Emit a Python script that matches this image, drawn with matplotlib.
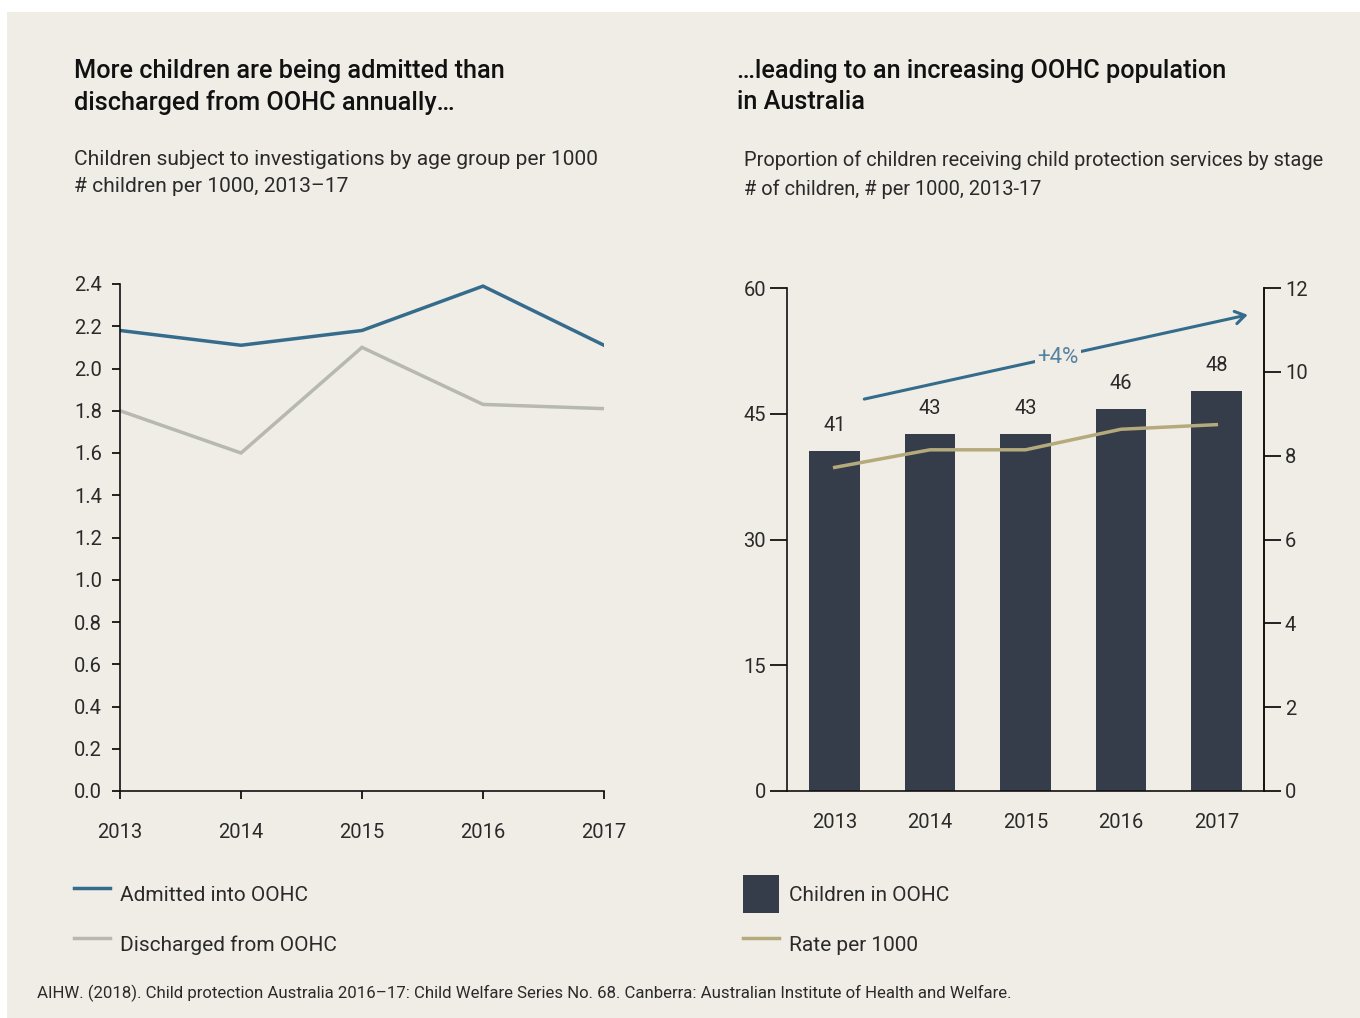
import numpy as np
import matplotlib
matplotlib.use('Agg')
import matplotlib.pyplot as plt
from matplotlib.lines import Line2D
from matplotlib.patches import Patch, Rectangle

plt.rcParams['font.family'] = ['Roboto', 'DejaVu Sans']

# data
years = [2013, 2014, 2015, 2016, 2017]
admitted = [2.18, 2.11, 2.18, 2.39, 2.11]
discharged = [1.80, 1.60, 2.10, 1.83, 1.81]
children_oohc = [40.6, 42.6, 42.6, 45.6, 47.7]
rate_per_1000 = [7.72, 8.14, 8.14, 8.63, 8.74]

bg = '#F0EDE6'
txt = '#2A2A2A'
blue = '#356C8C'
grey = '#B6B8B1'
bar_col = '#363D4A'
khaki = '#B5AA7C'

fig = plt.figure(figsize=(13.6, 10.18), dpi=100, facecolor='white')
fig.patches.append(Rectangle((7 / 1360, 0), 1 - 7 / 1360, 1 - 12 / 1018,
                             transform=fig.transFigure, facecolor=bg,
                             edgecolor='none', zorder=-10))

W, H = 1360., 1018.

def fx(px):
    return px / W

def fy(py):
    return 1 - py / H

fs_tick = 14.5

# ---- left chart ----
ax1 = fig.add_axes([fx(120), fy(791), fx(604) - fx(120), fy(284) - fy(791)])
ax1.set_facecolor('none')
ax1.plot(years, admitted, color=blue, lw=2.5, solid_joinstyle='miter')
ax1.plot(years, discharged, color=grey, lw=2.5, solid_joinstyle='miter')
ax1.set_xlim(2013, 2017)
ax1.set_ylim(0, 2.4)
ax1.set_xticks(years)
ax1.set_yticks(np.arange(0, 2.41, 0.2))
ax1.set_yticklabels(['%.1f' % v for v in np.arange(0, 2.41, 0.2)])
for s in ['top', 'right']:
    ax1.spines[s].set_visible(False)
for s in ['left', 'bottom']:
    ax1.spines[s].set_linewidth(1.2)
    ax1.spines[s].set_color('#111111')
ax1.tick_params(axis='y', length=6, width=1.2, pad=7, labelsize=fs_tick,
                labelcolor=txt)
ax1.tick_params(axis='x', length=6, width=1.2, pad=17, labelsize=fs_tick,
                labelcolor=txt)

# ---- right chart ----
ax2 = fig.add_axes([fx(787), fy(791), fx(1264) - fx(787), fy(288) - fy(791)])
ax2.set_facecolor('none')
bars = ax2.bar(years, children_oohc, width=0.53, color=bar_col, zorder=2)
for x, v in zip(years, children_oohc):
    ax2.text(x, v + 1.9, '%.0f' % v, ha='center', va='bottom', fontsize=fs_tick,
             color=txt)
ax2.set_xlim(2012.5, 2017.5)
ax2.set_ylim(0, 60)
ax2.set_yticks([0, 15, 30, 45, 60])
ax2.set_xticks(years)
ax2.spines['top'].set_visible(False)
for s in ['left', 'bottom', 'right']:
    ax2.spines[s].set_linewidth(1.2)
    ax2.spines[s].set_color('#111111')
ax2.spines['bottom'].set_zorder(5)
ax2.tick_params(axis='y', length=12, width=1.2, pad=3, labelsize=fs_tick,
                labelcolor=txt)
ax2.tick_params(axis='x', length=0, pad=16, labelsize=fs_tick, labelcolor=txt)

ax3 = ax2.twinx()
ax3.plot(years, rate_per_1000, color=khaki, lw=2.5)
ax3.set_ylim(0, 12)
ax3.set_yticks([0, 2, 4, 6, 8, 10, 12])
for s in ['top', 'left', 'bottom']:
    ax3.spines[s].set_visible(False)
ax3.spines['right'].set_linewidth(1.2)
ax3.spines['right'].set_color('#111111')
ax3.tick_params(axis='y', length=12, width=1.2, pad=3, labelsize=fs_tick,
                labelcolor=txt)

# growth arrow
ax2.annotate('', xy=(2017.33, 56.8), xytext=(2013.31, 46.75),
             arrowprops=dict(arrowstyle='->,head_length=0.7,head_width=0.45',
                             color=blue, lw=2.2, shrinkA=0, shrinkB=0),
             zorder=6)
ax2.text(2015.34, 51.75, '+4%', ha='center', va='center', fontsize=16,
         color='#5683A1', zorder=7,
         bbox=dict(boxstyle='square,pad=0.1', facecolor=bg, edgecolor='none'))

# ---- titles ----
fig.text(fx(74), fy(59), 'More children are being admitted than\n'
         'discharged from OOHC annually…', ha='left', va='top',
         fontsize=18.2, fontweight='medium', color='#111111', linespacing=1.36)
fig.text(fx(737), fy(59), '…leading to an increasing OOHC population\n'
         'in Australia', ha='left', va='top',
         fontsize=18.2, fontweight='medium', color='#111111', linespacing=1.36)
fig.text(fx(74), fy(150), 'Children subject to investigations by age group per 1000\n'
         '# children per 1000, 2013–17', ha='left', va='top',
         fontsize=15.1, color=txt, linespacing=1.55)
fig.text(fx(744), fy(150), 'Proportion of children receiving child protection services by stage\n'
         '# of children, # per 1000, 2013-17', ha='left', va='top',
         fontsize=14.4, color=txt, linespacing=1.63)

# ---- legends ----
leg_kw = dict(loc='upper left', frameon=False, fontsize=15, borderpad=0,
              borderaxespad=0, handlelength=1.75, handleheight=2.45,
              handletextpad=0.45, labelspacing=0.57, labelcolor=txt)
h_left = [Line2D([], [], color=blue, lw=2.5), Line2D([], [], color=grey, lw=2.5)]
lg1 = fig.legend(h_left, ['Admitted into OOHC', 'Discharged from OOHC'],
                 bbox_to_anchor=(fx(74), fy(875)), **leg_kw)
h_right = [Patch(facecolor=bar_col, edgecolor='none'),
           Line2D([], [], color=khaki, lw=2.5)]
lg2 = fig.legend(h_right, ['Children in OOHC', 'Rate per 1000'],
                 bbox_to_anchor=(fx(743), fy(875)), **leg_kw)

fig.text(fx(37), fy(993), 'AIHW. (2018). Child protection Australia 2016–17: Child Welfare '
         'Series No. 68. Canberra: Australian Institute of Health and Welfare.',
         ha='left', va='center', fontsize=12.1, color=txt)

fig.savefig('out.png', dpi=100, facecolor=fig.get_facecolor())
